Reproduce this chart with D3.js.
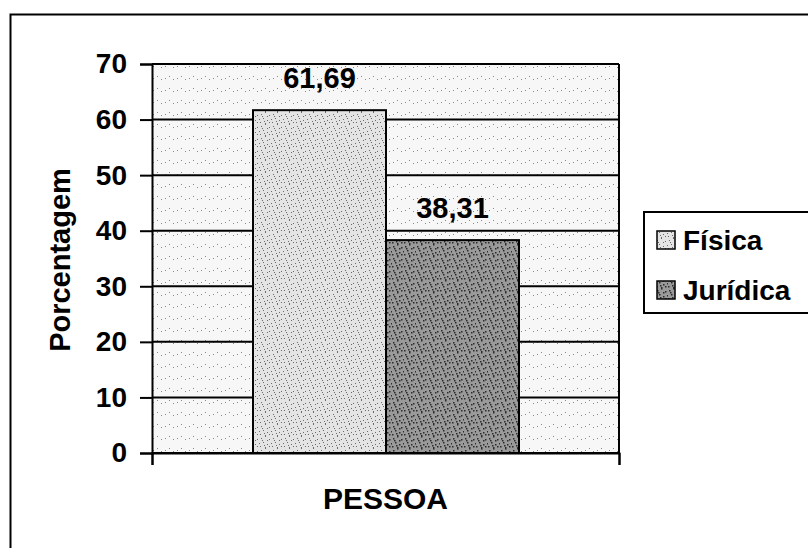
<!DOCTYPE html>
<html>
<head>
<meta charset="utf-8">
<script src="https://cdn.jsdelivr.net/npm/d3@7"></script>
<style>
  body { margin: 0; background: #fff; }
  text { font-family: "Liberation Sans", Arial, sans-serif; font-weight: bold; fill: #000; }
</style>
</head>
<body>
<svg width="808" height="548"></svg>
<script>
// data
var series = ["Física", "Jurídica"];
var values = [61.69, 38.31];
var labels = ["61,69", "38,31"];
var yTicks = [0, 10, 20, 30, 40, 50, 60, 70];

var svg = d3.select("svg"),
    margin = {top: 64, right: 189, bottom: 95, left: 152},
    width = +svg.attr("width") - margin.left - margin.right,
    height = +svg.attr("height") - margin.top - margin.bottom;

// stipple patterns (fixed dot layouts, only texture)
var defs = svg.append("defs");
function stipple(id, bg, dot, count, size) {
    var p = defs.append("pattern").attr("id", id)
        .attr("patternUnits", "userSpaceOnUse")
        .attr("width", 12).attr("height", 12);
    p.append("rect").attr("width", 12).attr("height", 12).attr("fill", bg);
    var pts = [[1,2],[5,0],[9,3],[3,6],[7,8],[11,7],[0,10],[5,11],[9,10],[2,4],[7,4],[4,9]];
    pts.slice(0, count).forEach(function(d) {
        p.append("rect").attr("x", d[0]).attr("y", d[1])
            .attr("width", size).attr("height", size).attr("fill", dot);
    });
}
stipple("bgPat", "#f7f7f7", "#8a8a8a", 3, 1);
stipple("fisPat", "#e4e4e4", "#6a6a6a", 12, 1);
stipple("jurPat", "#9a9a9a", "#2a2a2a", 12, 1.5);

// outer chart border (runs off the right and bottom edge)
svg.append("rect")
    .attr("x", 10.5).attr("y", 14.5)
    .attr("width", 830).attr("height", 560)
    .attr("fill", "none").attr("stroke", "#000").attr("stroke-width", 2);

var g = svg.append("g").attr("transform", "translate(" + margin.left + "," + margin.top + ")");

var y = d3.scaleLinear().domain([0, 70]).range([height, 0]);

var x = d3.scaleBand()
    .domain(series)
    .range([101, 101 + 266])
    .padding(0);

g.append("rect")
    .attr("width", width).attr("height", height)
    .attr("fill", "url(#bgPat)");

// gridlines
g.selectAll(".grid")
    .data(yTicks)
    .enter().append("line")
    .attr("x1", 0).attr("x2", width)
    .attr("y1", function(d) { return y(d); })
    .attr("y2", function(d) { return y(d); })
    .attr("stroke", "#000").attr("stroke-width", 2);

// bars
g.selectAll(".bar")
    .data(values)
    .enter().append("rect")
    .attr("x", function(d, i) { return x(series[i]); })
    .attr("y", function(d) { return y(d); })
    .attr("width", x.bandwidth())
    .attr("height", function(d) { return height - y(d); })
    .attr("fill", function(d, i) { return i === 0 ? "url(#fisPat)" : "url(#jurPat)"; })
    .attr("stroke", "#000").attr("stroke-width", 2);

// value labels
g.selectAll(".val")
    .data(values)
    .enter().append("text")
    .attr("x", function(d, i) { return x(series[i]) + x.bandwidth() / 2; })
    .attr("y", function(d) { return y(d) - 22; })
    .attr("text-anchor", "middle")
    .style("font-size", "29px")
    .text(function(d, i) { return labels[i]; });

// y axis
var yAxis = g.append("g")
    .call(d3.axisLeft(y).tickValues(yTicks).tickSize(12).tickPadding(13));
yAxis.select(".domain").attr("stroke", "#000").attr("stroke-width", 2);
yAxis.selectAll(".tick line").attr("stroke-width", 2);
yAxis.selectAll(".tick text").style("font-size", "28px")
    .style("font-family", "'Liberation Sans', Arial, sans-serif").style("font-weight", "bold");

// x axis baseline with end ticks
var xAxis = g.append("g")
    .attr("transform", "translate(0," + height + ")")
    .call(d3.axisBottom(d3.scaleLinear().range([0, width])).tickValues([0, 1]).tickSize(12).tickFormat(""));
xAxis.select(".domain").attr("stroke-width", 2);
xAxis.selectAll(".tick line").attr("stroke-width", 2);

// right edge of plot
g.append("line")
    .attr("x1", width).attr("x2", width).attr("y1", 0).attr("y2", height)
    .attr("stroke", "#000").attr("stroke-width", 2);

// axis titles
g.append("text")
    .attr("transform", "rotate(-90)")
    .attr("x", -(260 - margin.top))
    .attr("y", -82)
    .attr("text-anchor", "middle")
    .style("font-size", "29px")
    .text("Porcentagem");

g.append("text")
    .attr("x", width / 2)
    .attr("y", 509 - margin.top)
    .attr("text-anchor", "middle")
    .style("font-size", "30px")
    .text("PESSOA");

// legend
var legend = svg.append("g").attr("transform", "translate(644,212)");
legend.append("rect")
    .attr("width", 180).attr("height", 101)
    .attr("fill", "#fff").attr("stroke", "#000").attr("stroke-width", 2);
var item = legend.selectAll(".item")
    .data(series)
    .enter().append("g")
    .attr("transform", function(d, i) { return "translate(0," + (38 + i * 50) + ")"; });
item.append("rect")
    .attr("x", 13).attr("y", -19).attr("width", 18).attr("height", 18)
    .attr("fill", function(d, i) { return i === 0 ? "url(#fisPat)" : "url(#jurPat)"; })
    .attr("stroke", "#000").attr("stroke-width", 1.5);
item.append("text")
    .attr("x", 39).attr("y", 0)
    .style("font-size", "28px")
    .text(function(d) { return d; });
</script>
</body>
</html>
